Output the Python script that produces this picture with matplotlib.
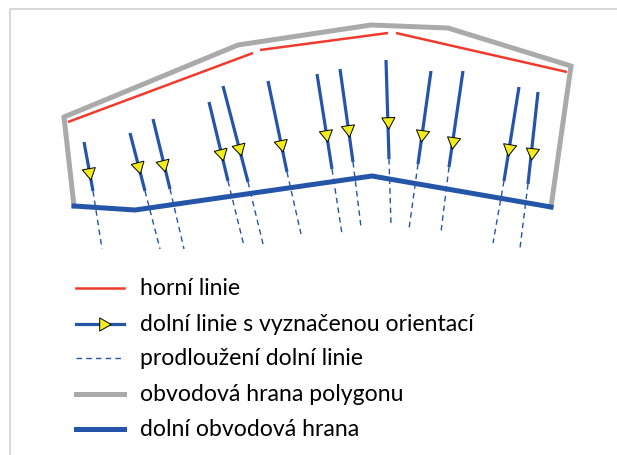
import numpy as np
import matplotlib
matplotlib.use("Agg")
import matplotlib.pyplot as plt

# ---- data (image pixel coordinates, y downward) ----
poly_x = [74, 64, 238, 371, 448, 571, 551]
poly_y = [207, 118, 46, 26, 29, 67, 208]

bottom_x = [74, 135, 372, 551]
bottom_y = [207, 211, 177, 208]

red_segments = [
    ([68, 253], [123, 54]),
    ([260, 388], [51, 34]),
    ([396, 567], [34, 73]),
]

# lower lines: start, solid end, dashed end, arrow position
line_x0 = [84, 130, 153, 209, 223, 268, 317, 340, 386, 431, 463, 519, 538]
line_y0 = [143, 134, 120, 103, 87, 82, 75, 70, 61, 72, 72, 88, 93]
line_x1 = [93, 145, 170, 228, 248, 287, 332, 353, 389, 418, 449, 504, 528]
line_y1 = [192, 192, 190, 182, 183, 173, 170, 163, 160, 165, 168, 182, 185]
line_x2 = [102, 160, 184, 244, 263, 301, 342, 361, 391, 409, 441, 493, 520]
line_y2 = [250, 250, 250, 247, 245, 235, 235, 228, 225, 230, 233, 244, 249]
arrow_x = [89, 138, 163, 221, 239, 281, 326, 348, 388, 422, 453, 509, 532]
arrow_y = [173, 167, 165, 154, 149, 145, 135, 130, 122, 135, 142, 149, 153]

legend_labels = [
    "horní linie",
    "dolní linie s vyznačenou orientací",
    "prodloužení dolní linie",
    "obvodová hrana polygonu",
    "dolní obvodová hrana",
]

RED = "#f03a2e"
BLUE = "#2455a8"
GRAY = "#aaaaaa"
YELLOW = "#f0ec1e"

W, H = 617, 456
fig = plt.figure(figsize=(W / 100, H / 100), dpi=100)
ax = fig.add_axes([0, 0, 1, 1])
ax.set_xlim(0, W)
ax.set_ylim(H, 0)
ax.axis("off")

# frame
ax.plot([10, 10, W], [H, 10, 10], color="#d4d4d4", lw=1.3, solid_capstyle="butt")

# polygon edge
ax.plot(poly_x, poly_y, color=GRAY, lw=3.6, solid_joinstyle="miter", zorder=2)
# bottom edge
ax.plot(bottom_x, bottom_y, color=BLUE, lw=3.6, solid_joinstyle="miter", zorder=3)
# red top lines
for xs, ys in red_segments:
    ax.plot(xs, ys, color=RED, lw=1.8, solid_capstyle="butt", zorder=3)

for i in range(len(line_x0)):
    ax.plot([line_x0[i], line_x1[i]], [line_y0[i], line_y1[i]], color=BLUE, lw=2.3,
            solid_capstyle="butt", zorder=4)
    ax.plot([line_x1[i], line_x2[i]], [line_y1[i], line_y2[i]], color=BLUE, lw=1.0,
            ls=(0, (4, 3)), zorder=4)
    dx = line_x1[i] - line_x0[i]
    dy = line_y1[i] - line_y0[i]
    ang = np.degrees(np.arctan2(-dy, dx)) - 90
    ax.plot(arrow_x[i], arrow_y[i], marker=(3, 0, ang), ms=11, mfc=YELLOW,
            mec="black", mew=0.7, zorder=5)

# legend
leg_y = [289, 325, 359, 395, 430]
lx0, lx1, tx = 76, 124, 140
font = dict(family=["Lato", "DejaVu Sans"], fontsize=16.6, color="black")
ax.plot([lx0, lx1], [leg_y[0], leg_y[0]], color=RED, lw=1.8)
ax.plot([lx0, lx1], [leg_y[1], leg_y[1]], color=BLUE, lw=2.3)
ax.plot((lx0 + lx1) / 2 + 3, leg_y[1], marker=(3, 0, -90), ms=11, mfc=YELLOW,
        mec="black", mew=0.7)
ax.plot([lx0, lx1], [leg_y[2], leg_y[2]], color=BLUE, lw=1.0, ls=(0, (4, 3)))
ax.plot([lx0, lx1], [leg_y[3], leg_y[3]], color=GRAY, lw=3.6)
ax.plot([lx0, lx1], [leg_y[4], leg_y[4]], color=BLUE, lw=3.6)
for y, lab in zip(leg_y, legend_labels):
    ax.text(tx, y, lab, va="center", ha="left", **font)

fig.savefig("out.png", dpi=100)
